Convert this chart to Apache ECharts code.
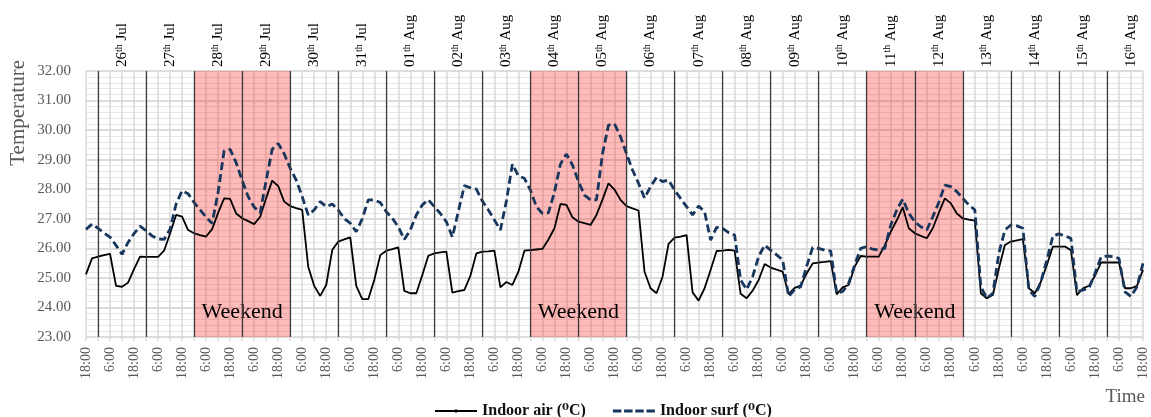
<!DOCTYPE html>
<html><head><meta charset="utf-8">
<script src="https://cdn.jsdelivr.net/npm/echarts@6/dist/echarts.min.js"></script>
<style>html,body{margin:0;padding:0;background:#fff}#c{width:1151px;height:417px}</style>
</head><body><div id="c"></div>
<script>
// 3-hourly samples starting 25 Jul 18:00
const timeCycle = ['18:00','21:00','0:00','3:00','6:00','9:00','12:00','15:00'];
const air = [
25.12,25.66,25.72,25.77,25.81,24.73,24.70,24.84,
25.30,25.72,25.71,25.71,25.71,25.92,26.50,27.13,
27.07,26.62,26.51,26.45,26.40,26.65,27.20,27.69,
27.67,27.18,27.02,26.92,26.82,27.07,27.70,28.29,
28.11,27.58,27.43,27.36,27.30,25.38,24.73,24.39,
24.76,25.94,26.23,26.30,26.37,24.73,24.28,24.28,
24.93,25.77,25.92,25.97,26.03,24.56,24.48,24.48,
25.10,25.75,25.83,25.86,25.89,24.50,24.55,24.59,
25.07,25.83,25.89,25.90,25.92,24.68,24.86,24.76,
25.21,25.92,25.94,25.96,25.98,26.30,26.68,27.50,
27.47,27.05,26.90,26.85,26.79,27.13,27.65,28.20,
27.99,27.64,27.43,27.35,27.28,25.21,24.65,24.48,
25.04,26.15,26.36,26.40,26.45,24.51,24.23,24.65,
25.27,25.91,25.92,25.95,25.92,24.46,24.31,24.57,
24.93,25.47,25.35,25.28,25.21,24.45,24.66,24.74,
25.15,25.49,25.52,25.54,25.57,24.44,24.68,24.76,
25.38,25.74,25.72,25.72,25.72,26.10,26.56,26.95,
27.39,26.68,26.51,26.42,26.34,26.68,27.20,27.69,
27.52,27.18,27.01,26.97,26.94,24.48,24.31,24.42,
25.32,26.11,26.23,26.27,26.31,24.65,24.48,24.87,
25.44,26.06,26.06,26.06,25.94,24.42,24.65,24.73,
25.07,25.52,25.52,25.52,25.52,24.65,24.65,24.73,
25.27
];
const surf = [
26.64,26.82,26.68,26.52,26.38,26.10,25.80,26.20,
26.50,26.75,26.60,26.42,26.32,26.30,26.65,27.50,
27.95,27.85,27.55,27.30,27.05,26.85,27.90,29.30,
29.35,28.90,28.30,27.75,27.40,27.20,28.30,29.35,
29.55,29.20,28.71,28.31,27.75,27.13,27.30,27.58,
27.41,27.50,27.30,27.00,26.85,26.56,27.00,27.64,
27.64,27.55,27.24,27.02,26.73,26.30,26.62,27.13,
27.47,27.64,27.41,27.18,26.90,26.38,27.25,28.12,
28.05,28.00,27.60,27.30,26.96,26.62,27.60,28.85,
28.45,28.37,27.97,27.41,27.18,27.20,27.90,28.85,
29.19,28.82,28.26,27.80,27.64,27.64,29.20,30.17,
30.21,29.78,29.20,28.65,28.20,27.70,28.09,28.40,
28.26,28.31,27.97,27.69,27.41,27.13,27.43,27.24,
26.28,26.71,26.68,26.53,26.45,24.93,24.61,25.04,
25.72,26.11,25.94,25.78,25.61,24.37,24.61,24.70,
25.40,26.03,26.00,25.94,25.91,24.48,24.54,24.82,
25.44,26.00,26.06,25.97,25.94,26.00,26.79,27.30,
27.66,27.19,26.90,26.73,26.62,27.07,27.55,28.14,
28.09,27.92,27.69,27.47,27.30,24.70,24.31,24.48,
25.83,26.62,26.79,26.76,26.68,24.59,24.37,24.87,
25.61,26.42,26.49,26.42,26.34,24.53,24.59,24.65,
25.15,25.70,25.74,25.72,25.66,24.53,24.37,24.70,
25.49
];
const dateDays = ['26','27','28','29','30','31','01','02','03','04','05','06','07','08','09','10','11','12','13','14','15','16'];
const dateMonths = ['Jul','Jul','Jul','Jul','Jul','Jul','Aug','Aug','Aug','Aug','Aug','Aug','Aug','Aug','Aug','Aug','Aug','Aug','Aug','Aug','Aug','Aug'];
// weekend spans as [start sample, end sample]
const weekends = [[18,34],[74,90],[130,146]];
const seriesNames = ['Indoor air (\u2070C)', 'Indoor surf (\u2070C)'];

const SERIF = '"Liberation Serif", "DejaVu Serif", serif';
const cats = air.map((_, i) => timeCycle[i % 8]);
const dayStarts = dateDays.map((_, k) => 2 + 8 * k);   // midnight samples
const noonIdx = (i) => i >= 6 && (i - 6) % 8 === 0;

const chart = echarts.init(document.getElementById('c'), null, {renderer: 'canvas'});
chart.setOption({
  animation: false,
  backgroundColor: '#fff',
  textStyle: {fontFamily: SERIF},
  grid: {left: 86, right: 8, top: 71, bottom: 80, containLabel: false},
  legend: {
    data: [
      {name: seriesNames[0], icon: 'path://M0,0.6h42v1.8h-42z M19.8,0h2.4v3h-2.4z'},
      {name: seriesNames[1], icon: 'path://M0,0h8.5v3h-8.5z M11.2,0h8.5v3h-8.5z M22.4,0h8.5v3h-8.5z M33.6,0h8.4v3h-8.4z'}
    ],
    left: 430, top: 398, itemWidth: 42, itemHeight: 3, itemGap: 27,
    textStyle: {fontFamily: SERIF, fontWeight: 'bold', fontSize: 16, color: '#111'}
  },
  xAxis: [{
    type: 'category', data: cats, boundaryGap: false, position: 'bottom',
    axisLine: {show: false},
    axisTick: {show: true, interval: 1, length: 4, lineStyle: {color: '#d9d9d9', width: 1.5}},
    splitLine: {show: true, interval: 1, lineStyle: {color: '#d9d9d9', width: 1.5}},
    axisLabel: {interval: 3, rotate: 90, margin: 10, color: '#595959', fontSize: 14, fontFamily: SERIF}
  }, {
    type: 'category', data: cats, boundaryGap: false, position: 'top',
    axisLine: {show: false}, axisTick: {show: false}, splitLine: {show: false},
    axisLabel: {
      interval: (i) => noonIdx(i), rotate: -90, margin: 4, color: '#000', fontFamily: SERIF,
      formatter: (v, i) => { const k = (i - 6) / 8; return '{n|' + dateDays[k] + '}{s|th}{n| ' + dateMonths[k] + '}'; },
      rich: {
        n: {fontSize: 15, fontFamily: SERIF, color: '#000', lineHeight: 16},
        s: {fontSize: 10, fontFamily: SERIF, color: '#000', verticalAlign: 'top', lineHeight: 16}
      }
    }
  }],
  yAxis: {
    type: 'value', min: 23, max: 32, interval: 1,
    axisLine: {show: false}, axisTick: {show: false},
    axisLabel: {formatter: (v) => v.toFixed(2), color: '#595959', fontSize: 15, margin: 15, fontFamily: SERIF},
    splitLine: {show: true, lineStyle: {color: '#d0d0d0', width: 1.5}},
    minorTick: {show: false, splitNumber: 5},
    minorSplitLine: {show: true, lineStyle: {color: '#e6e6e6', width: 1}}
  },
  graphic: [
    {type: 'text', left: 8, top: 60, rotation: Math.PI / 2,
     style: {text: 'Temperature', fontSize: 21, fontFamily: SERIF, fill: '#595959'}},
    {type: 'text', right: 6, top: 388,
     style: {text: 'Time', fontSize: 19, fontFamily: SERIF, fill: '#595959'}}
  ],
  series: [{
    name: seriesNames[0], type: 'line', data: air, xAxisIndex: 0,
    symbol: 'none', showSymbol: false,
    lineStyle: {color: '#000', width: 1.8}, itemStyle: {color: '#000'},
    emphasis: {disabled: true},
    markArea: {
      silent: true,
      itemStyle: {color: 'rgba(255,0,0,0.27)'},
      label: {show: true, position: 'insideBottom', distance: 14, color: '#000', fontSize: 22, fontFamily: SERIF},
      data: weekends.map(w => [{xAxis: w[0], name: 'Weekend'}, {xAxis: w[1]}])
    },
    markLine: {
      silent: true, symbol: 'none', label: {show: false},
      lineStyle: {color: '#3a3a3a', width: 1.2, type: 'solid'},
      emphasis: {disabled: true},
      data: dayStarts.map(d => ({xAxis: d}))
    }
  }, {
    name: seriesNames[1], type: 'line', data: surf, xAxisIndex: 0,
    symbol: 'none', showSymbol: false,
    lineStyle: {color: '#17365d', width: 2.8, type: [8, 4]}, itemStyle: {color: '#17365d'},
    emphasis: {disabled: true}
  }]
});
</script></body></html>
